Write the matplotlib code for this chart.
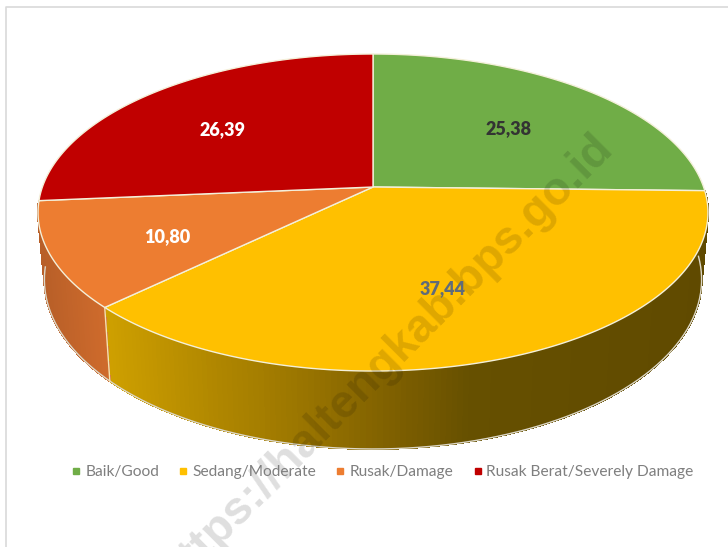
import numpy as np
import matplotlib
matplotlib.use("Agg")
import matplotlib.pyplot as plt
from matplotlib.collections import PolyCollection
from matplotlib.lines import Line2D
from matplotlib.colors import to_rgb

categories = ["Baik/Good", "Sedang/Moderate", "Rusak/Damage", "Rusak Berat/Severely Damage"]
values = [25.38, 37.44, 10.80, 26.39]
value_labels = ["25,38", "37,44", "10,80", "26,39"]
colors = ["#70AD47", "#FFC000", "#ED7D31", "#C00000"]
label_colors = ["#333333", "#5F6B7A", "#FFFFFF", "#FFFFFF"]
label_radius = [0.60, 0.64, 0.66, 0.60]
label_shift = [(3, 2), (-15, 0), (2, 6), (-13, 1)]

plt.rcParams["font.family"] = ["Lato", "DejaVu Sans"]
fig = plt.figure(figsize=(7.28, 5.47), dpi=100)
ax = fig.add_axes([0, 0, 1, 1])
ax.set_xlim(0, 728)
ax.set_ylim(547, 0)
ax.axis("off")

# perspective view of the pie
CX, CY, A, B, K = 373.0, 187.0, 330.6, 154.4, 0.161
DEPTH, SHRINK = 65.4, 0.981


def top(theta, r=1.0):
    u, v = r * np.sin(theta), r * np.cos(theta)
    w = 1 + K * v
    return CX + A * u / w, CY - B * v / w


def bottom(theta):
    x, y = top(theta)
    w = 1 + K * np.cos(theta)
    return CX + (x - CX) * SHRINK, y + DEPTH / w


total = sum(values)
edges = 2 * np.pi * np.concatenate([[0], np.cumsum(values)]) / total
edges[-1] = 2 * np.pi

# frame of the chart area
ax.plot([6, 6, 728], [547, 7, 7], color="#D9D9D9", lw=1.2, zorder=1)

# side wall with horizontal shading
side_stops = {
    1: ([104, 200, 300, 400, 470, 710], ["#CFA000", "#B48A00", "#9A7500", "#7C5E00", "#665000", "#604A00"]),
    2: ([40, 104], ["#B85F28", "#CF6B2C"]),
}
polys, fc = [], []
for i, (xs, cs) in side_stops.items():
    rgb = np.array([to_rgb(c) for c in cs])
    th = np.linspace(edges[i], edges[i + 1], 160)
    for a, b in zip(th[:-1], th[1:]):
        polys.append([top(a), top(b), bottom(b), bottom(a)])
        xm = top((a + b) / 2)[0]
        fc.append([np.interp(xm, xs, rgb[:, k]) for k in range(3)])
ax.add_collection(PolyCollection(polys, facecolors=fc, edgecolors=fc, linewidths=0.8,
                                 antialiaseds=False, zorder=2))

# light rim on the lower outline and the divider on the wall
th = np.linspace(edges[1], edges[3], 300)
bx, by = bottom(th)
ax.plot(bx, by, color="#DDD8C8", lw=1.0, zorder=3)
bxd, byd = zip(top(edges[2]), bottom(edges[2]))
ax.plot(bxd, byd, color="#F3E3B0", lw=1.0, zorder=3)

# top face
for i, c in enumerate(colors):
    th = np.linspace(edges[i], edges[i + 1], 200)
    x, y = top(th)
    ax.fill(np.r_[CX, x], np.r_[CY, y], facecolor=c, edgecolor="#F4F0DA", lw=1.0,
            joinstyle="round", zorder=4)

# watermark
ax.text(606, 141, "https://haltengkab.bps.go.id", rotation=45, rotation_mode="anchor",
        ha="right", va="center", fontsize=33.5, fontweight="bold",
        family="Liberation Sans", color="black", alpha=0.13, zorder=5, clip_on=True)

# data labels
for i, lab in enumerate(value_labels):
    mid = (edges[i] + edges[i + 1]) / 2
    lx, ly = top(mid, label_radius[i])
    ax.text(lx + label_shift[i][0], ly + label_shift[i][1], lab, color=label_colors[i],
            fontsize=13, fontweight="heavy", ha="center", va="center", zorder=6)

# legend
handles = [Line2D([], [], ls="none", marker="s", ms=4.5, color=c) for c in colors]
ax.legend(handles, categories, ncol=4, frameon=False, loc="center", fontsize=11.2,
          bbox_to_anchor=(383 / 728, 1 - 472 / 547), labelcolor="#7F7F7F",
          handlelength=0.5, handletextpad=0.32, columnspacing=1.32, borderpad=0)

fig.savefig("out.png", dpi=100)
